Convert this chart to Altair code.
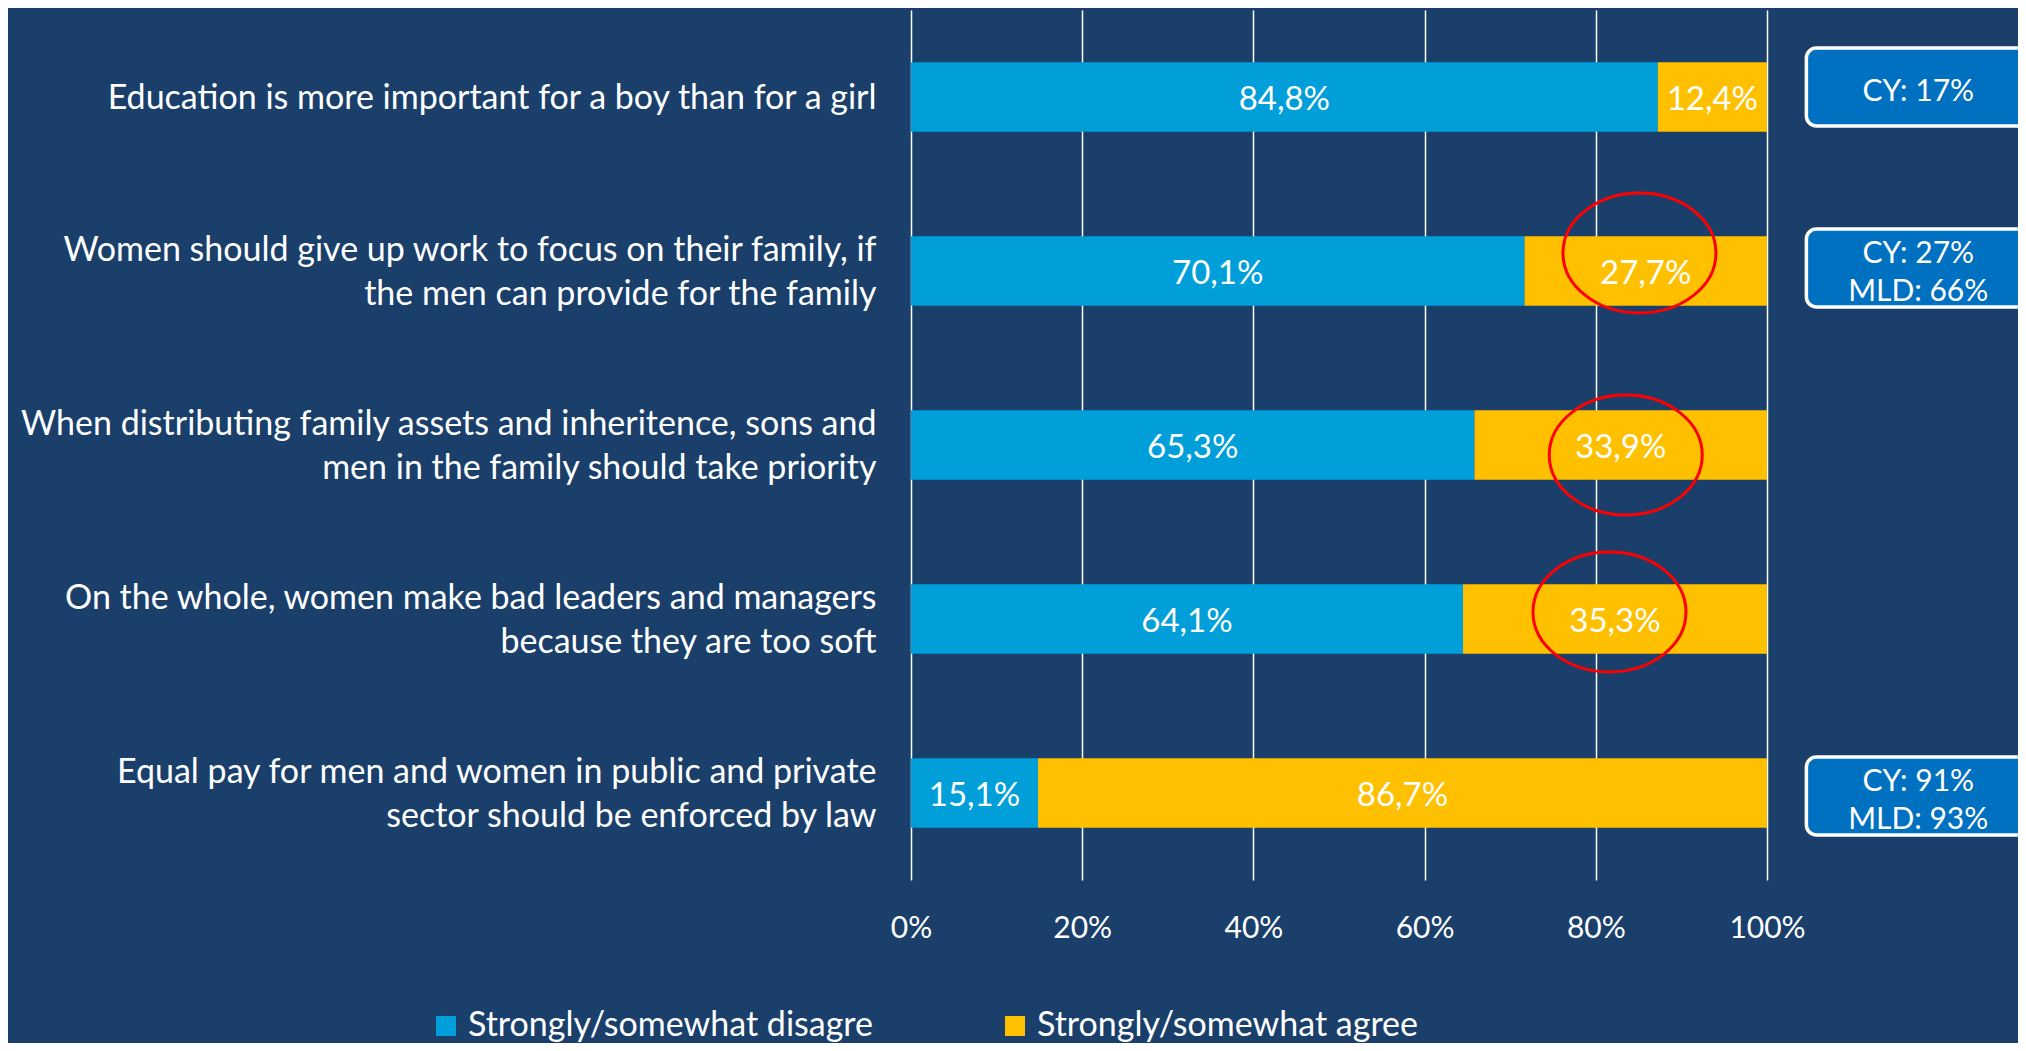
import altair as alt
import pandas as pd

# ---- data ----
questions = [
    "Education is more important for a boy than for a girl",
    "Women should give up work to focus on their family, if|the men can provide for the family",
    "When distributing family assets and inheritence, sons and|men in the family should take priority",
    "On the whole, women make bad leaders and managers|because they are too soft",
    "Equal pay for men and women in public and private|sector should be enforced by law",
]
disagree = [84.8, 70.1, 65.3, 64.1, 15.1]
agree = [12.4, 27.7, 33.9, 35.3, 86.7]
series = ["Strongly/somewhat disagre", "Strongly/somewhat agree"]
colors = ["#009FDA", "#FFC000"]

box_rows = [0, 1, 4]
box_texts = ["CY: 17%", "CY: 27%\nMLD: 66%", "CY: 91%\nMLD: 93%"]
box_dy = [-10, -3, 3]

ring_rows = [1, 2, 3]
ring_x = [0.851, 0.835, 0.816]
ring_dy = [-18, 10, -7]

BG = "#1A3F6B"
FONT = "Lato"

rows = []
for q, d, a in zip(questions, disagree, agree):
    for i, (s, v) in enumerate(zip(series, [d, a])):
        rows.append({"question": q, "series": s, "value": v, "order": i,
                     "label": f"{v:.1f}".replace(".", ",") + "%"})
df = pd.DataFrame(rows)

yscale = alt.Scale(domain=questions, paddingInner=0.6, paddingOuter=0.3)
xscale = alt.Scale(domain=[0, 1], nice=False, zero=True)

y_axis = alt.Axis(title=None, labelExpr="split(datum.label, '|')",
                  labelFontSize=34, labelColor="white", labelFont=FONT,
                  labelAlign="right", labelBaseline="middle", labelPadding=35,
                  labelLimit=1200, labelLineHeight=44, ticks=False, domain=False, grid=False,
                  labelOffset={"condition": {"test": "indexof(datum.value, '|') >= 0",
                                             "value": -20}, "value": 2})
y_enc = alt.Y("question:N", sort=questions, scale=yscale, axis=y_axis)

x_axis = alt.Axis(title=None, format=".0%", values=[0, 0.2, 0.4, 0.6, 0.8, 1.0],
                  grid=True, gridColor="white", gridWidth=1.5, gridOpacity=1,
                  ticks=False, domain=False, labelFontSize=30, labelColor="white",
                  labelFont=FONT, labelPadding=33, labelFlush=False)

base = alt.Chart(df).transform_stack(
    stack="value", groupby=["question"], as_=["x0", "x1"], offset="normalize",
    sort=[alt.SortField("order", order="ascending")]
).transform_calculate(xm="(datum.x0 + datum.x1) / 2")

bars = base.mark_bar().encode(
    x=alt.X("x0:Q", scale=xscale, axis=x_axis),
    x2="x1:Q",
    y=y_enc,
    color=alt.Color("series:N", scale=alt.Scale(domain=series, range=colors),
                    legend=alt.Legend(title=None, orient="none", legendX=-482, legendY=999,
                                      direction="horizontal", symbolType="square",
                                      symbolSize=400, symbolStrokeWidth=0, padding=0,
                                      labelFontSize=34, labelColor="white", labelFont=FONT,
                                      labelOffset=5, columnPadding=125, labelLimit=1000)),
    order=alt.Order("order:Q"),
)

labels = base.mark_text(color="white", fontSize=33, font=FONT, dy=3).encode(
    x=alt.X("xm:Q", scale=xscale, axis=x_axis),
    y=y_enc,
    text="label:N",
)

layers = [bars, labels]

box_x0 = 1.046
box_x1 = 1.33
box_tx = 1.1767
for r, t, dy in zip(box_rows, box_texts, box_dy):
    bdf = pd.DataFrame({"question": [questions[r]], "x0": [box_x0], "x1": [box_x1],
                        "xt": [box_tx], "t": [t]})
    nlines = t.count("\n") + 1
    layers.append(alt.Chart(bdf).mark_bar(size=78, cornerRadius=10, fill="#0070C0",
                                          stroke="white", strokeWidth=3.5, yOffset=dy).encode(
        x=alt.X("x0:Q", scale=xscale, axis=x_axis), x2="x1:Q", y=y_enc))
    layers.append(alt.Chart(bdf).mark_text(color="white", fontSize=30, font=FONT,
                                           lineBreak="\n", lineHeight=38,
                                           yOffset=dy + 5 - 19 * (nlines - 1)).encode(
        x=alt.X("xt:Q", scale=xscale, axis=x_axis), y=y_enc, text="t:N"))

ellipse = "M -1 0 A 1 0.784 0 1 0 1 0 A 1 0.784 0 1 0 -1 0 Z"
for r, xv, dy in zip(ring_rows, ring_x, ring_dy):
    rdf = pd.DataFrame({"question": [questions[r]], "rx": [xv]})
    layers.append(alt.Chart(rdf).mark_point(shape=ellipse, size=153 * 153, filled=False,
                                            stroke="#FF0000", strokeWidth=3, opacity=1,
                                            yOffset=dy).encode(
        x=alt.X("rx:Q", scale=xscale, axis=x_axis), y=y_enc))

chart = alt.layer(*layers).properties(
    width=856, height=870,
    autosize=alt.AutoSizeParams(type="none"),
    padding={"left": 903, "top": 2, "right": 251, "bottom": 163},
    background=BG,
).configure_view(stroke=None)

chart.save("out.html", embed_options={"renderer": "svg", "actions": False})
